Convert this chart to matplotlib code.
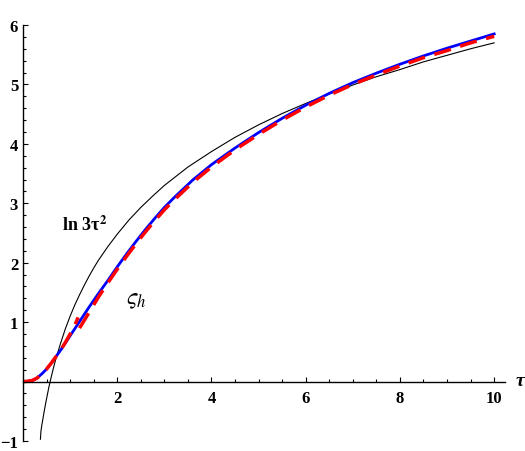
import matplotlib.pyplot as plt
from matplotlib.ticker import MultipleLocator, FixedLocator

plt.rcParams["font.family"] = "Liberation Serif"
plt.rcParams["mathtext.fontset"] = "stix"

# values
tau_blue = [0, 0.1, 0.2, 0.3, 0.4, 0.5, 0.6, 0.7, 0.8, 0.9, 1.0, 1.2, 1.4, 1.6, 1.8, 2.0,
            2.2, 2.4, 2.6, 2.8, 3.0, 3.2, 3.4, 3.6, 3.8, 4.0, 4.5, 5.0, 5.5, 6.0, 6.5,
            7.0, 7.5, 8.0, 8.5, 9.0, 9.5, 10.0]
sigma_h = [0, 0.005, 0.02, 0.06, 0.13, 0.21, 0.31, 0.42, 0.53, 0.65, 0.77, 1.01, 1.25, 1.48,
           1.70, 1.93, 2.15, 2.36, 2.56, 2.75, 2.93, 3.09, 3.24, 3.39, 3.52, 3.65, 3.93,
           4.19, 4.43, 4.65, 4.85, 5.03, 5.19, 5.34, 5.48, 5.61, 5.73, 5.85]

tau_red_small = [0, 0.1, 0.2, 0.3, 0.4, 0.5, 0.6, 0.7, 0.8, 0.9, 1.0, 1.1, 1.17]
red_small = [0, 0.005, 0.02, 0.06, 0.13, 0.21, 0.31, 0.42, 0.53, 0.66, 0.80, 0.95, 1.08]

tau_red_large = [1.2, 1.4, 1.6, 1.8, 2.0, 2.2, 2.4, 2.6, 2.8, 3.0, 3.2, 3.4, 3.6, 3.8, 4.0,
                 4.5, 5.0, 5.5, 6.0, 6.5, 7.0, 7.5, 8.0, 8.5, 9.0, 9.5, 10.0]
red_large = [0.90, 1.16, 1.42, 1.66, 1.89, 2.11, 2.32, 2.52, 2.71, 2.89, 3.05, 3.20, 3.35,
             3.48, 3.61, 3.90, 4.16, 4.40, 4.62, 4.82, 5.00, 5.16, 5.31, 5.45, 5.57, 5.70, 5.81]

tau_black = [0.37, 0.38, 0.4, 0.42, 0.45, 0.48, 0.5, 0.55, 0.6, 0.65, 0.7, 0.75, 0.8, 0.9,
             1.0, 1.1, 1.2, 1.3, 1.4, 1.5, 1.6, 1.8, 2.0, 2.25, 2.5, 2.75, 3.0, 3.5, 4.0,
             4.5, 5.0, 5.5, 6.0, 6.5, 7.0, 7.5, 8.0, 8.5, 9.0, 9.5, 10.0]
ln3tau2 = [-0.97, -0.84, -0.73, -0.64, -0.50, -0.37, -0.29, -0.09, 0.08, 0.24, 0.39, 0.52,
           0.65, 0.89, 1.10, 1.29, 1.46, 1.62, 1.77, 1.91, 2.04, 2.27, 2.48, 2.72, 2.93,
           3.12, 3.30, 3.61, 3.87, 4.11, 4.32, 4.51, 4.68, 4.84, 4.99, 5.13, 5.25, 5.38,
           5.49, 5.60, 5.70]

fig = plt.figure(figsize=(5.25, 4.52), dpi=100)
ax = fig.add_axes([23 / 525, 1 - 442 / 452, 482 / 525, 416 / 452])

ax.plot(tau_black, ln3tau2, color="black", linewidth=0.8)
ax.plot(tau_blue, sigma_h, color="#0000ff", linewidth=2.0)
ax.plot(tau_red_small, red_small, color="#ff0000", linewidth=2.5, dashes=(5, 2.8))
ax.plot(tau_red_large, red_large, color="#ff0000", linewidth=2.5, dashes=(5, 2.8))

ax.set_xlim(0, 10.23)
ax.set_ylim(-1, 6)

# Mathematica-style axes through the origin
for side in ["top", "right"]:
    ax.spines[side].set_visible(False)
ax.spines["left"].set_position(("data", 0))
ax.spines["bottom"].set_position(("data", 0))
ax.spines["left"].set_linewidth(1.0)
ax.spines["bottom"].set_linewidth(1.0)

ax.xaxis.set_major_locator(FixedLocator([2, 4, 6, 8, 10]))
ax.xaxis.set_minor_locator(MultipleLocator(0.5))
ax.yaxis.set_major_locator(FixedLocator([-1, 1, 2, 3, 4, 5, 6]))
ax.yaxis.set_minor_locator(MultipleLocator(0.2))
ax.set_yticklabels(["\u22121", "1", "2", "3", "4", "5", "6"])

ax.tick_params(axis="x", which="both", direction="in", pad=6)
ax.tick_params(axis="y", which="both", direction="in", pad=3.5)
ax.tick_params(which="major", length=3.5, width=0.8, labelsize=12)
ax.tick_params(which="minor", length=2.2, width=0.8)
for lab in ax.get_xticklabels() + ax.get_yticklabels():
    lab.set_fontweight("bold")

ax.text(10.55, 0.02, "τ", fontsize=14, fontweight="bold", style="italic",
        ha="center", va="center", clip_on=False)
ax.text(0.83, 2.55, r"ln 3τ$^{\mathbf{2}}$", fontsize=13, fontweight="bold")
ax.text(2.4, 1.38, r"$\varsigma_h$", fontsize=17, ha="center", va="center")

plt.savefig("out.png", dpi=100, facecolor="white")
